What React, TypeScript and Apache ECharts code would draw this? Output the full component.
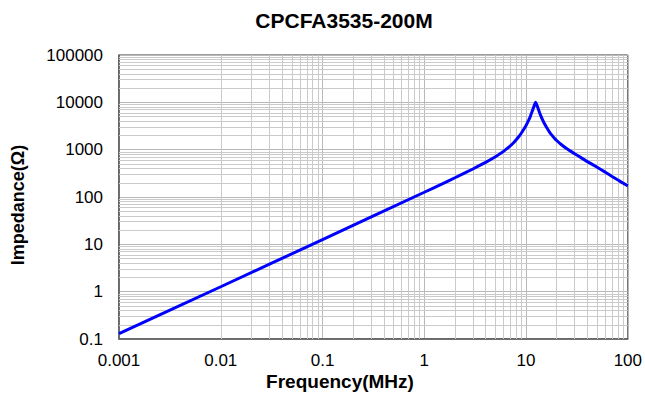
import React, { useEffect, useRef } from "react";
import * as echarts from "echarts";

const TITLE = "CPCFA3535-200M";
const X_NAME = "Frequency(MHz)";
const Y_NAME = "Impedance(Ω)";

const freqMHz = [
  0.001, 0.01, 0.1, 1, 1.5, 2, 3, 4, 5, 6, 7, 7.5, 8, 8.5, 9, 9.5, 10, 10.5, 11,
  11.5, 12, 12.4, 12.8, 13.2, 13.6, 14, 14.5, 15, 16, 17, 18, 19, 20, 22, 25, 30,
  35, 40, 50, 60, 70, 80, 90, 100,
];
const impedance = [
  0.13, 1.27, 12.6, 126, 190, 255, 390, 540, 710, 920, 1200, 1380, 1620, 1900,
  2250, 2700, 3250, 4000, 5000, 6500, 8400, 10000, 8700, 7200, 6000, 5100, 4300,
  3700, 2900, 2350, 2000, 1750, 1560, 1300, 1054, 820, 670, 560, 425, 335, 272,
  228, 196, 172,
];

const xTickLabels = ["0.001", "0.01", "0.1", "1", "10", "100"];
const yTickLabels = ["0.1", "1", "10", "100", "1000", "10000", "100000"];
const minorMultipliers = [2, 3, 4, 5, 6, 7, 8, 9];

const FONT = "'Liberation Sans', Arial, sans-serif";

export default function App() {
  const ref = useRef<HTMLDivElement>(null);
  useEffect(() => {
    document.body.style.margin = "0";
    if (!ref.current) return;
    const chart = echarts.init(ref.current, undefined, { renderer: "svg" });

    const xMin = Number(xTickLabels[0]);
    const xMax = Number(xTickLabels[xTickLabels.length - 1]);
    const yMin = Number(yTickLabels[0]);
    const yMax = Number(yTickLabels[yTickLabels.length - 1]);

    const minorX: any[] = [];
    for (let i = 0; i < xTickLabels.length - 1; i++) {
      const base = Number(xTickLabels[i]);
      minorMultipliers.forEach((m) => minorX.push({ xAxis: +(base * m).toPrecision(6) }));
    }
    const minorY: any[] = [];
    for (let i = 0; i < yTickLabels.length - 1; i++) {
      const base = Number(yTickLabels[i]);
      minorMultipliers.forEach((m) => minorY.push({ yAxis: +(base * m).toPrecision(6) }));
    }

    const fmt = (labels: string[]) => (v: number) => {
      const target = Math.log10(v);
      const found = labels.find((l) => Math.abs(Math.log10(Number(l)) - target) < 1e-6);
      return found ?? "";
    };

    chart.setOption({
      animation: false,
      backgroundColor: "#ffffff",
      title: {
        text: TITLE,
        left: 339,
        top: 5,
        textAlign: "center",
        textStyle: { fontSize: 21, fontWeight: "bold", color: "#000", fontFamily: FONT },
      },
      grid: {
        left: 119,
        right: 17,
        top: 55,
        bottom: 64,
        show: true,
        borderColor: "#3a3a3a",
        borderWidth: 1,
        backgroundColor: "transparent",
      },
      xAxis: {
        type: "log",
        logBase: 10,
        min: xMin,
        max: xMax,
        interval: 1,
        axisLine: { show: true, lineStyle: { color: "#595959", width: 1.5 } },
        axisTick: { show: false },
        axisLabel: {
          formatter: fmt(xTickLabels),
          fontSize: 17,
          color: "#000",
          fontFamily: FONT,
          margin: 13,
        },
        splitLine: { show: true, lineStyle: { color: "#b8b8b8", width: 1 } },
      },
      yAxis: {
        type: "log",
        logBase: 10,
        min: yMin,
        max: yMax,
        interval: 1,
        axisLine: { show: true, lineStyle: { color: "#595959", width: 1.5 } },
        axisTick: { show: false },
        axisLabel: {
          formatter: fmt(yTickLabels),
          fontSize: 17,
          color: "#000",
          fontFamily: FONT,
          margin: 16,
        },
        splitLine: { show: true, lineStyle: { color: "#b8b8b8", width: 1 } },
      },
      graphic: [
        {
          type: "text",
          x: 340,
          y: 381,
          style: {
            text: X_NAME,
            textAlign: "center",
            textVerticalAlign: "middle",
            fontSize: 19,
            fontWeight: "bold",
            fontFamily: FONT,
            fill: "#000",
          },
        },
        {
          type: "text",
          x: 18,
          y: 205,
          rotation: Math.PI / 2,
          style: {
            text: Y_NAME,
            textAlign: "center",
            textVerticalAlign: "middle",
            fontSize: 18,
            fontWeight: "bold",
            fontFamily: FONT,
            fill: "#000",
          },
        },
      ],
      series: [
        {
          type: "line",
          data: freqMHz.map((f, i) => [f, impedance[i]]),
          showSymbol: false,
          symbol: "none",
          lineStyle: { opacity: 0 },
          silent: true,
          z: 1,
          markLine: {
            silent: true,
            symbol: ["none", "none"],
            label: { show: false },
            animation: false,
            lineStyle: { type: "solid", color: "#cacaca", width: 1 },
            emphasis: { disabled: true },
            data: [...minorX, ...minorY],
          },
        },
        {
          type: "line",
          data: freqMHz.map((f, i) => [f, impedance[i]]),
          showSymbol: false,
          symbol: "none",
          smooth: 0.15,
          lineStyle: { color: "#0000ff", width: 3 },
          z: 5,
        },
      ],
    });
    return () => chart.dispose();
  }, []);
  return <div ref={ref} style={{ width: 645, height: 403 }} />;
}
